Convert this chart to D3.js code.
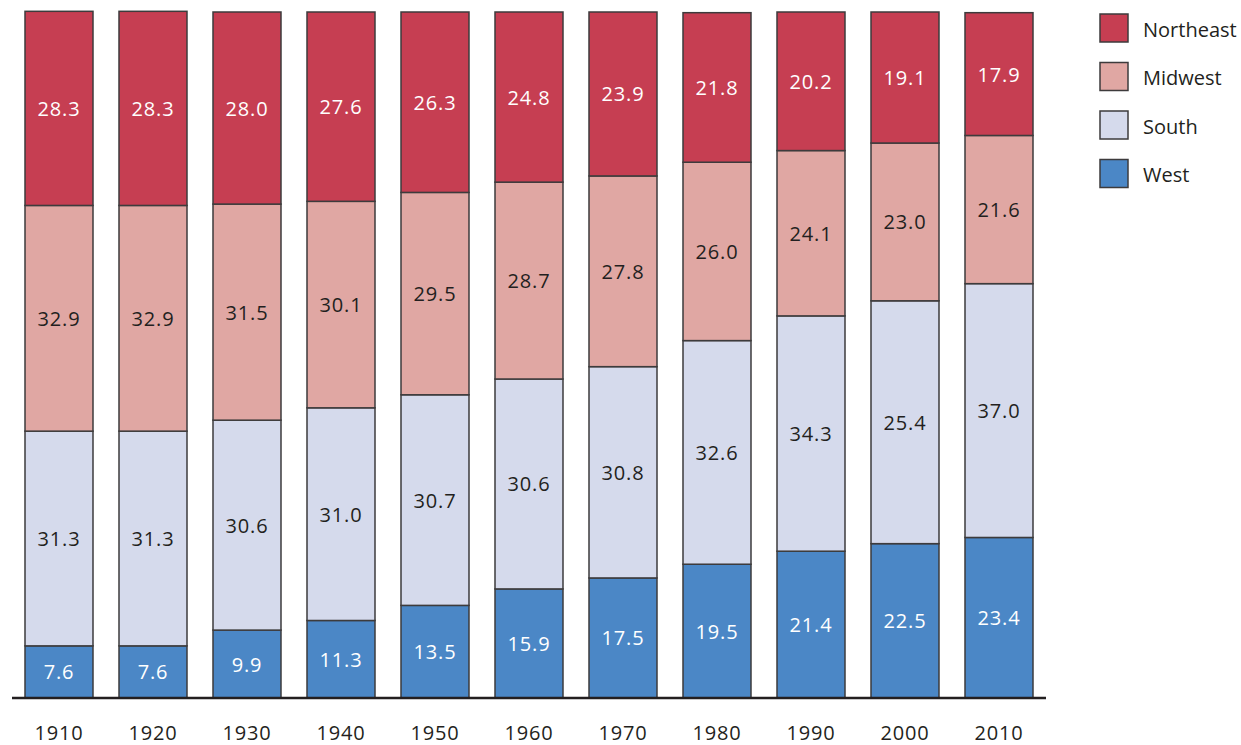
<!DOCTYPE html>
<html>
<head>
<meta charset="utf-8">
<script src="https://cdn.jsdelivr.net/npm/d3@7"></script>
<style>
  html, body { margin: 0; padding: 0; background: #fff; }
  svg { display: block; }
  text { font-family: "Open Sans", "Noto Sans", sans-serif; }
</style>
</head>
<body>
<svg id="chart" width="1241" height="745"></svg>
<script>
// ---- data ----
const years = ["1910", "1920", "1930", "1940", "1950", "1960", "1970", "1980", "1990", "2000", "2010"];
const regions = ["West", "South", "Midwest", "Northeast"]; // stack order bottom -> top
const legendOrder = ["Northeast", "Midwest", "South", "West"];
const west      = [7.6, 7.6, 9.9, 11.3, 13.5, 15.9, 17.5, 19.5, 21.4, 22.5, 23.4];
const south     = [31.3, 31.3, 30.6, 31.0, 30.7, 30.6, 30.8, 32.6, 34.3, 35.4, 37.0];
const midwest   = [32.9, 32.9, 31.5, 30.1, 29.5, 28.7, 27.8, 26.0, 24.1, 23.0, 21.6];
const northeast = [28.3, 28.3, 28.0, 27.6, 26.3, 24.8, 23.9, 21.8, 20.2, 19.1, 17.9];
// printed label in the source differs from the drawn share for South 2000
const labelOverrides = { "South-2000": "25.4" };

const colors = { Northeast: "#c63e52", Midwest: "#e0a7a3", South: "#d5daec", West: "#4b87c6" };
const labelColors = { Northeast: "#ffffff", Midwest: "#231f20", South: "#231f20", West: "#ffffff" };

const rows = years.map((y, i) => ({ year: y, West: west[i], South: south[i], Midwest: midwest[i], Northeast: northeast[i] }));

const svg = d3.select("#chart");
const x = d3.scaleBand().domain(years).range([12, 1046]).paddingInner(0.2766).paddingOuter(0.1383);
const y = d3.scaleLinear().domain([0, 100]).range([698, 12]);

const stacked = d3.stack().keys(regions)(rows);

const g = svg.append("g");
stacked.forEach(layer => {
  const key = layer.key;
  const lg = g.append("g").attr("class", "layer-" + key);
  lg.selectAll("rect").data(layer).join("rect")
    .attr("x", d => x(d.data.year))
    .attr("y", d => y(d[1]))
    .attr("width", x.bandwidth())
    .attr("height", d => y(d[0]) - y(d[1]))
    .attr("fill", colors[key])
    .attr("stroke", "#3d3b3c")
    .attr("stroke-width", 1.5);
  lg.selectAll("text").data(layer).join("text")
    .attr("x", d => x(d.data.year) + x.bandwidth() / 2)
    .attr("y", d => (y(d[0]) + y(d[1])) / 2)
    .attr("text-anchor", "middle")
    .attr("dominant-baseline", "central")
    .attr("font-size", 20)
    .attr("letter-spacing", 0.8)
    .attr("fill", labelColors[key])
    .text(d => labelOverrides[key + "-" + d.data.year] || d3.format(".1f")(d.data[key]));
});

// baseline axis
const axis = svg.append("g").attr("transform", "translate(0,698)")
  .call(d3.axisBottom(x).tickSize(0).tickPadding(28).tickSizeOuter(0));
axis.select(".domain").attr("stroke", "#231f20").attr("stroke-width", 2.5)
  .attr("d", "M12,0H1046");
axis.selectAll("text").attr("font-size", 20).attr("fill", "#231f20")
  .attr("letter-spacing", 0.8)
  .attr("font-family", "'Open Sans', 'Noto Sans', sans-serif");

// legend
const legend = svg.append("g").attr("transform", "translate(1100,14)");
legendOrder.forEach((key, i) => {
  const item = legend.append("g").attr("transform", `translate(0,${i * 48.5})`);
  item.append("rect").attr("width", 28).attr("height", 28)
    .attr("fill", colors[key]).attr("stroke", "#3d3b3c").attr("stroke-width", 1.5);
  item.append("text").attr("x", 43).attr("y", 15).attr("dominant-baseline", "central")
    .attr("font-size", 20).attr("fill", "#231f20").text(key);
});
</script>
</body>
</html>
